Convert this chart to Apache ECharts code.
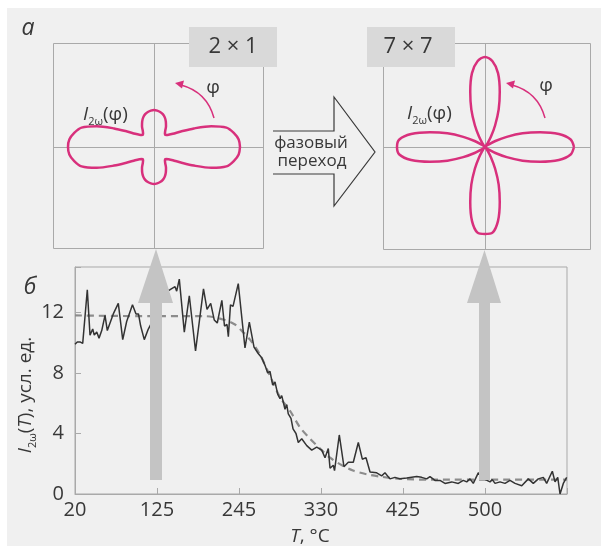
<!DOCTYPE html>
<html>
<head>
<meta charset="utf-8">
<script src="https://cdn.jsdelivr.net/npm/echarts@6/dist/echarts.min.js"></script>
<style>
  html, body { margin: 0; padding: 0; background: #fff; }
  #chart { width: 601px; height: 553px; }
</style>
</head>
<body>
<div id="chart"></div>
<script>
// x axis is in tick units: tick i carries label xTickLabels[i]
const xTickLabels = ['20', '125', '245', '330', '425', '500']
const yTicks = [0, 4, 8, 12]

// measured I2w(T), solid noisy curve
const solidX = [
  0, 0.028, 0.061, 0.094, 0.150, 0.183, 0.216, 0.235, 0.265, 0.293, 0.326, 0.366, 0.394, 0.467, 0.528,
  0.582, 0.630, 0.701, 0.744, 0.774, 0.801, 0.845, 0.894, 0.963, 1.049, 1.118, 1.159, 1.220, 1.240, 1.272,
  1.333, 1.394, 1.470, 1.567, 1.610, 1.655, 1.698, 1.735, 1.791, 1.823, 1.854, 1.870, 1.896, 1.927, 1.991,
  2.073, 2.126, 2.183, 2.232, 2.277, 2.317, 2.350, 2.378, 2.411, 2.439, 2.472, 2.500, 2.521, 2.561, 2.582,
  2.601, 2.634, 2.659, 2.695, 2.723, 2.765, 2.826, 2.887, 2.948, 3.009, 3.049, 3.089, 3.110, 3.150, 3.165,
  3.223, 3.280, 3.333, 3.394, 3.455, 3.504, 3.549, 3.598, 3.679, 3.740, 3.780, 3.841, 3.902, 3.963, 4.045,
  4.106, 4.167, 4.228, 4.289, 4.329, 4.390, 4.451, 4.512, 4.594, 4.674, 4.735, 4.777, 4.817, 4.857, 4.918,
  4.988, 5.061, 5.089, 5.122, 5.183, 5.244, 5.305, 5.366, 5.448, 5.528, 5.589, 5.650, 5.711, 5.752, 5.821,
  5.854, 5.887, 5.915, 5.955, 5.996
]
const solidY = [
  9.9, 10.05, 10.05, 9.95, 13.5, 10.5, 10.9, 10.5, 10.7, 10.3, 10.8, 11.8, 10.8, 11.9, 12.6,
  10.2, 11.4, 12.5, 11.9, 11.9, 11.1, 10.2, 10.9, 11.6, 12.8, 13.4, 13.5, 13.7, 13.4, 14.2,
  10.7, 13.1, 9.45, 13.55, 12.2, 12.6, 11.5, 11.3, 12.8, 11.1, 11.2, 10.4, 12.5, 12.4, 13.9,
  9.65, 11.35, 9.7, 9.3, 9.0, 8.5, 8.0, 8.1, 7.2, 7.4, 6.6, 6.3, 6.5, 5.6, 5.9,
  5.3, 5.0, 4.3, 4.0, 3.4, 3.65, 3.2, 2.9, 3.1, 2.9, 2.4, 3.0, 1.7, 1.9, 1.55,
  3.9, 1.8, 2.1, 2.1, 3.4, 2.3, 2.4, 1.45, 1.4, 1.2, 1.4, 1.0, 1.1, 1.0, 1.05,
  1.1, 1.15, 1.1, 1.0, 1.15, 0.9, 0.9, 0.7, 0.8, 0.7, 0.9, 0.8, 1.0, 0.7, 1.4,
  1.0, 0.8, 0.95, 0.7, 0.8, 0.7, 0.9, 0.7, 0.55, 1.0, 0.7, 1.0, 1.1, 0.7, 1.5,
  0.8, 1.1, 0.0, 0.7, 1.1
]

// fitted curve, dashed
const fitX = [0, 0.915, 1.585, 1.829, 1.951, 2.012, 2.134, 2.256, 2.378, 2.500, 2.622, 2.744, 2.866, 2.988,
  3.110, 3.256, 3.390, 3.561, 3.720, 3.963, 4.329, 6.0]
const fitY = [11.8, 11.75, 11.75, 11.5, 11.2, 10.9, 10.2, 9.2, 7.8, 6.4, 5.5, 4.4, 3.65, 3.0,
  2.4, 1.9, 1.55, 1.3, 1.15, 1.0, 0.95, 0.95]

// polar diagrams I2w(phi): radius every 5 deg, starting at 0 deg
const rose2x1 = [
  86, 85, 81, 75, 61, 44, 31, 23, 19, 17, 17, 19.5, 24, 28, 31.5, 34, 35.5, 36.5,
  37, 36.5, 35.5, 34, 31.5, 28, 24, 19.5, 17, 17, 19, 23, 31, 44, 61, 75, 81, 85,
  86, 85, 81, 75, 61, 44, 31, 23, 19, 17, 17, 19.5, 24, 28, 31.5, 34, 35.5, 36.5,
  37, 36.5, 35.5, 34, 31.5, 28, 24, 19.5, 17, 17, 19, 23, 31, 44, 61, 75, 81, 85
]
const rose7x7 = [
  89, 86, 75, 57, 40, 24, 12, 4, 1, 0, 1, 4, 12, 24, 40, 57, 75, 86,
  90, 86, 75, 57, 40, 24, 12, 4, 1, 0, 1, 4, 12, 24, 40, 57, 75, 86,
  88, 86, 75, 57, 40, 24, 12, 4, 1, 0, 1, 4, 12, 24, 40, 57, 75, 86,
  87, 86, 75, 57, 40, 24, 12, 4, 1, 0, 1, 4, 12, 24, 40, 57, 75, 86
]
const roseStep = 5

const FONT = '"Open Sans", "DejaVu Sans", sans-serif'
const PINK = '#d8307c'
const TEXT = '#383838'

const toPolar = (radii) => {
  const pts = radii.map((r, i) => [r, i * roseStep])
  pts.push([radii[0], 360])
  return pts
}

const chart = echarts.init(document.getElementById('chart'))

const label = (x, y, text, size, extra) => ({
  type: 'text', x, y, z: 50,
  style: Object.assign({
    text, fill: TEXT, fontSize: size, fontFamily: FONT,
    align: 'center', verticalAlign: 'middle', textAlign: 'center', textVerticalAlign: 'middle',
  }, extra || {}),
})

const i2wRich = {
  i: { fontStyle: 'italic', fontSize: 19, fontFamily: FONT, fill: TEXT, lineHeight: 24 },
  s: { fontSize: 11, fontFamily: FONT, fill: TEXT, verticalAlign: 'bottom', lineHeight: 18 },
  n: { fontSize: 19, fontFamily: FONT, fill: TEXT, lineHeight: 24 },
}

const phiArrow = (dx) => [
  {
    type: 'bezierCurve', z: 40,
    shape: { x1: 214 + dx, y1: 118, cpx1: 207 + dx, cpy1: 92, x2: 181 + dx, y2: 85 },
    style: { stroke: PINK, lineWidth: 1.5, fill: null },
  },
  {
    type: 'polygon', z: 40,
    shape: { points: [[175 + dx, 83], [184 + dx, 80.5], [182 + dx, 88.5]] },
    style: { fill: PINK },
  },
]

const option = {
  animation: false,
  backgroundColor: 'transparent',
  grid: {
    left: 75, right: 34, top: 267, bottom: 59,
    show: true, borderColor: '#a9a9a9', borderWidth: 1, backgroundColor: 'transparent',
  },
  xAxis: {
    type: 'value', min: 0, max: 6, interval: 1,
    axisLine: { lineStyle: { color: '#a9a9a9' } },
    axisTick: { inside: true, length: 6, lineStyle: { color: '#a9a9a9' } },
    splitLine: { show: false },
    axisLabel: {
      formatter: (v) => xTickLabels[v] || '',
      fontSize: 20, color: TEXT, fontFamily: FONT, margin: 6,
    },
  },
  yAxis: {
    type: 'value', min: 0, max: 15, interval: 4,
    axisLine: { lineStyle: { color: '#a9a9a9' } },
    axisTick: { inside: true, length: 6, lineStyle: { color: '#a9a9a9' } },
    splitLine: { show: false },
    axisLabel: {
      formatter: (v) => (yTicks.includes(v) ? String(v) : ''),
      fontSize: 20, color: TEXT, fontFamily: FONT, margin: 11,
    },
  },
  polar: [
    { center: [154, 147], radius: 100 },
    { center: [485, 147], radius: 100 },
  ],
  angleAxis: [
    { polarIndex: 0, type: 'value', min: 0, max: 360, startAngle: 0, clockwise: false, show: false },
    { polarIndex: 1, type: 'value', min: 0, max: 360, startAngle: 0, clockwise: false, show: false },
  ],
  radiusAxis: [
    { polarIndex: 0, type: 'value', min: 0, max: 100, show: false },
    { polarIndex: 1, type: 'value', min: 0, max: 100, show: false },
  ],
  series: [
    {
      type: 'line', coordinateSystem: 'polar', polarIndex: 0,
      data: toPolar(rose2x1), smooth: 0.3, showSymbol: false, z: 30,
      lineStyle: { color: PINK, width: 2.5, join: 'round' },
    },
    {
      type: 'line', coordinateSystem: 'polar', polarIndex: 1,
      data: toPolar(rose7x7), smooth: 0.3, showSymbol: false, z: 30,
      lineStyle: { color: PINK, width: 2.5, join: 'round' },
    },
    {
      type: 'line',
      data: fitX.map((x, i) => [x, fitY[i]]),
      smooth: 0.3, showSymbol: false,
      lineStyle: { color: '#8c8c8c', width: 2.2, type: [7, 5] },
    },
    {
      type: 'line',
      data: solidX.map((x, i) => [x, solidY[i]]),
      showSymbol: false,
      lineStyle: { color: '#333', width: 1.5 },
    },
  ],
  graphic: [
    {
      type: 'rect', z: -100,
      shape: { x: 7, y: 8, width: 594, height: 538 },
      style: { fill: '#f0f0f0' },
    },
    // diagram frames and crosshairs
    { type: 'rect', z: 1, shape: { x: 53.5, y: 43.5, width: 210, height: 205 }, style: { stroke: '#a9a9a9', fill: null, lineWidth: 1 } },
    { type: 'line', z: 1, shape: { x1: 53.5, y1: 147.5, x2: 263.5, y2: 147.5 }, style: { stroke: '#a9a9a9', lineWidth: 1 } },
    { type: 'line', z: 1, shape: { x1: 154.5, y1: 43.5, x2: 154.5, y2: 248.5 }, style: { stroke: '#a9a9a9', lineWidth: 1 } },
    { type: 'rect', z: 1, shape: { x: 383.5, y: 43.5, width: 207, height: 206 }, style: { stroke: '#a9a9a9', fill: null, lineWidth: 1 } },
    { type: 'line', z: 1, shape: { x1: 383.5, y1: 147.5, x2: 590.5, y2: 147.5 }, style: { stroke: '#a9a9a9', lineWidth: 1 } },
    { type: 'line', z: 1, shape: { x1: 485.5, y1: 43.5, x2: 485.5, y2: 249.5 }, style: { stroke: '#a9a9a9', lineWidth: 1 } },
    // grey tags
    { type: 'rect', z: 20, shape: { x: 189, y: 27, width: 88, height: 40 }, style: { fill: '#d9d9d9' } },
    label(233, 47, '2 × 1', 22),
    { type: 'rect', z: 20, shape: { x: 367, y: 27, width: 88, height: 40 }, style: { fill: '#d9d9d9' } },
    label(408, 47, '7 × 7', 22),
    // phase transition arrow
    {
      type: 'polyline', z: 20,
      shape: { points: [[273, 131], [334, 131], [334, 97], [375, 152], [334, 206], [334, 174], [273, 174]] },
      style: { stroke: '#3a3a3a', lineWidth: 1.2, fill: null },
    },
    label(311, 143, 'фазовый', 17),
    label(312, 161, 'переход', 17),
    // phi arrows and labels
    ...phiArrow(0),
    ...phiArrow(331),
    label(213, 88, 'φ', 19),
    label(546, 86, 'φ', 19),
    {
      type: 'text', x: 83, y: 115, z: 50,
      style: { text: '{i|I}{s|2ω}{n|(φ)}', rich: i2wRich, align: 'left', verticalAlign: 'middle', textVerticalAlign: 'middle' },
    },
    {
      type: 'text', x: 407, y: 114, z: 50,
      style: { text: '{i|I}{s|2ω}{n|(φ)}', rich: i2wRich, align: 'left', verticalAlign: 'middle', textVerticalAlign: 'middle' },
    },
    // panel letters
    label(28, 28, 'а', 23, { fontStyle: 'italic' }),
    label(30, 287, 'б', 23, { fontStyle: 'italic' }),
    // big grey arrows from the curve to the diagrams
    {
      type: 'polygon', z: 100,
      shape: { points: [[150, 480], [162, 480], [162, 303], [173, 303], [156, 249], [138, 303], [150, 303]] },
      style: { fill: '#c4c4c4' },
    },
    {
      type: 'polygon', z: 100,
      shape: { points: [[479, 480], [490, 480], [490, 303], [501, 303], [484.5, 250], [467, 303], [479, 303]] },
      style: { fill: '#c4c4c4' },
    },
    // axis titles
    {
      type: 'text', x: 26, y: 395, z: 50, rotation: Math.PI / 2,
      style: {
        text: '{i|I}{s|2ω}{n|(}{i|T}{n|), усл. ед.}',
        rich: i2wRich, align: 'center', verticalAlign: 'middle', textAlign: 'center', textVerticalAlign: 'middle',
      },
    },
    {
      type: 'text', x: 310, y: 537, z: 50,
      style: {
        text: '{i|T}{n|, °C}',
        rich: i2wRich, align: 'center', verticalAlign: 'middle', textAlign: 'center', textVerticalAlign: 'middle',
      },
    },
  ],
}

chart.setOption(option)
</script>
</body>
</html>
